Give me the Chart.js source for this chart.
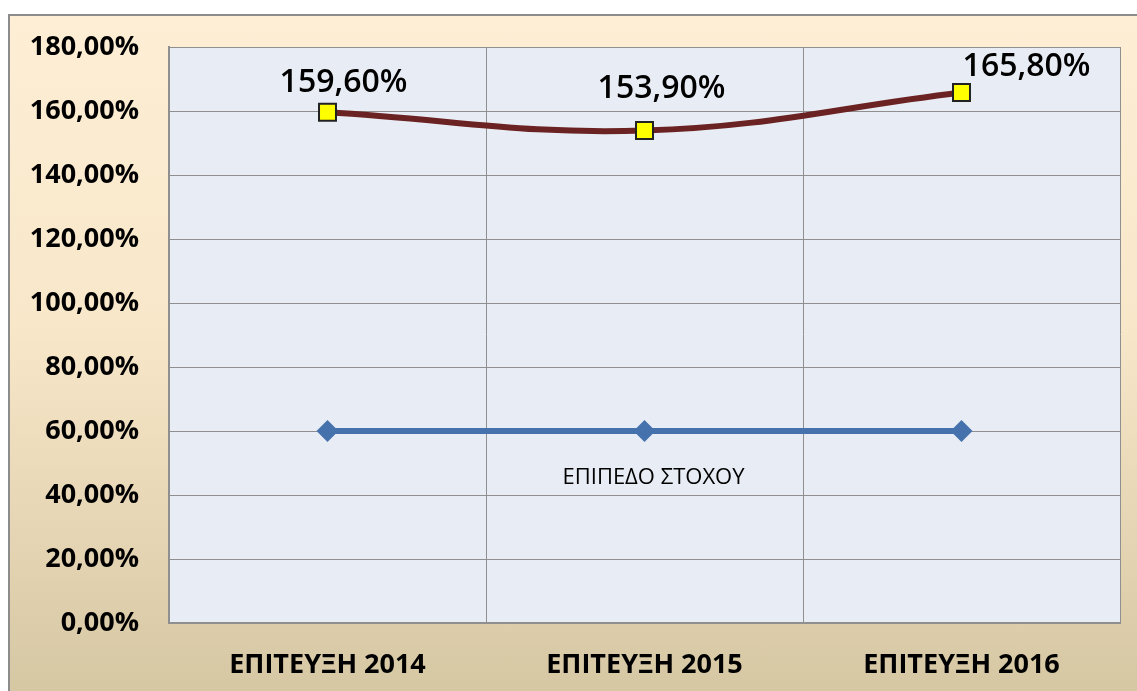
<!DOCTYPE html>
<html>
<head>
<meta charset="utf-8">
<script src="https://cdn.jsdelivr.net/npm/chart.js@4/dist/chart.umd.min.js"></script>
<style>
  html, body { margin: 0; padding: 0; background: #fff; }
  #frame {
    position: absolute; left: 8px; top: 14px; width: 1140px; height: 690px;
    border: 2px solid #8c8c8c;
    background: linear-gradient(to bottom, #fdeed5 0%, #f8e7c9 45%, #d5c6a2 100%);
  }
  #wrap { position: absolute; left: 0; top: 0; width: 1137px; height: 691px; }
</style>
</head>
<body>
<div id="frame"></div>
<div id="wrap"><canvas id="chart"></canvas></div>
<script>
// categories and series
const categories = ["ΕΠΙΤΕΥΞΗ 2014", "ΕΠΙΤΕΥΞΗ 2015", "ΕΠΙΤΕΥΞΗ 2016"];
const achieved = [159.6, 153.9, 165.8];
const target = [60, 60, 60];
const targetLabel = "ΕΠΙΠΕΔΟ ΣΤΟΧΟΥ";
const yTicks = [0, 20, 40, 60, 80, 100, 120, 140, 160, 180];

// greek style percent, e.g. 159,60%
function pct(v) {
  return v.toFixed(2).replace(".", ",") + "%";
}

const fontFamily = "'Open Sans', 'DejaVu Sans', sans-serif";

// fill the plot area and draw the value labels
const plotBg = {
  id: "plotBg",
  beforeDraw(chart) {
    const { ctx, chartArea: a } = chart;
    ctx.save();
    ctx.fillStyle = "#e8ecf4";
    ctx.fillRect(a.left, a.top, a.right - a.left, a.bottom - a.top);
    ctx.restore();
  },
  afterDatasetsDraw(chart) {
    const ctx = chart.ctx;
    ctx.save();
    ctx.fillStyle = "#000";
    ctx.textAlign = "center";
    ctx.textBaseline = "alphabetic";
    ctx.font = "600 32px " + fontFamily;
    // label nudges (right, up) like the excel original
    const dx = [16, 17, 65];
    const dy = [20, 33, 16];
    chart.getDatasetMeta(0).data.forEach((pt, i) => {
      ctx.fillText(pct(achieved[i]), pt.x + dx[i], pt.y - dy[i]);
    });
    // target line label under the middle point
    const mid = chart.getDatasetMeta(1).data[1];
    ctx.font = "22px " + fontFamily;
    ctx.textBaseline = "middle";
    ctx.fillText(targetLabel, mid.x + 9, mid.y + 47);
    ctx.restore();
  }
};

const ctx = document.getElementById("chart").getContext("2d");
const myChart = new Chart(ctx, {
  type: "line",
  data: {
    labels: categories,
    datasets: [
      {
        label: "ΕΠΙΤΕΥΞΗ",
        data: achieved,
        borderColor: "#6b2222",
        borderWidth: 6,
        tension: 0.4,
        pointStyle: "rect",
        pointRadius: 12,
        pointBackgroundColor: "#ffff00",
        pointBorderColor: "#222",
        pointBorderWidth: 2,
      },
      {
        label: targetLabel,
        data: target,
        borderColor: "#4572ac",
        borderWidth: 6,
        pointStyle: "rectRot",
        pointRadius: 11,
        pointBackgroundColor: "#4572ac",
        pointBorderColor: "#4572ac",
        pointBorderWidth: 0,
      },
    ],
  },
  options: {
    responsive: true,
    maintainAspectRatio: false,
    animation: false,
    layout: { padding: { top: 47, right: 17, left: 0, bottom: 0 } },
    plugins: {
      legend: { display: false },
      tooltip: { enabled: false },
    },
    scales: {
      x: {
        offset: true,
        grid: { offset: true, color: "#8f8f8f", lineWidth: 1, drawTicks: false },
        border: { color: "#8f8f8f", width: 2 },
        ticks: {
          color: "#000",
          padding: 26,
          font: { family: fontFamily, size: 27, weight: "bold" },
        },
        afterFit(scale) { scale.height = 68; },
      },
      y: {
        min: 0,
        max: 180,
        afterBuildTicks(scale) { scale.ticks = yTicks.map((v) => ({ value: v })); },
        grid: { color: "#8f8f8f", lineWidth: 1, drawTicks: false },
        border: { color: "#8f8f8f", width: 2 },
        ticks: {
          color: "#000",
          padding: 30,
          font: { family: fontFamily, size: 27, weight: "bold" },
          callback: (v) => pct(v),
        },
        afterFit(scale) { scale.width = 169; },
      },
    },
  },
  plugins: [plotBg],
});
</script>
</body>
</html>
